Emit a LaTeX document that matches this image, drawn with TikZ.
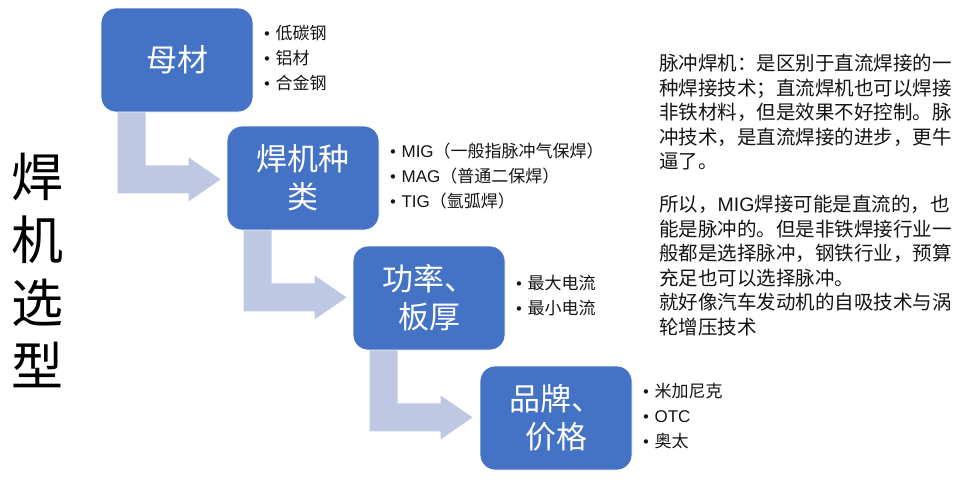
\documentclass[tikz,border=0pt]{standalone}
\usepackage{fontspec}
\setmainfont{Noto Sans CJK SC}
\newfontfamily\bulfont{DejaVu Sans}
\newfontfamily\latfont{Liberation Sans}
\usetikzlibrary{calc,backgrounds}
\definecolor{boxblue}{HTML}{4472C4}
\definecolor{arrowfill}{RGB}{191,200,227}
\definecolor{txt}{RGB}{20,20,20}
\tikzset{
  stepbox/.style={draw=white, line width=0.8pt, fill=boxblue, rounded corners=15pt,
    minimum width=152pt, minimum height=104pt, inner sep=0pt, align=center,
    text=white, font=\fontsize{31}{38}\selectfont},
  bullets/.style={anchor=west, inner sep=0pt, align=left, text=txt,
    font=\fontsize{17}{25}\selectfont},
  bendarrow/.style={fill=arrowfill, draw=none}
}
\newcommand{\bul}{\makebox[13pt][l]{\bulfont\fontsize{15}{15}\selectfont\raisebox{0pt}{•}}}
\newcommand{\lat}[1]{{\latfont #1}}
\newcommand{\bendarr}[1]{%
  \begin{scope}[shift={(#1)}]
    \fill[bendarrow] (17,-2) -- (45,-2) -- (45,53) -- (88,53) -- (88,45) -- (120,67)
      -- (88,89) -- (88,81) -- (17,81) -- cycle;
  \end{scope}}
\begin{document}
\begin{tikzpicture}[x=1pt,y=-1pt]
\useasboundingbox (0,0) rectangle (969,483);
% boxes
\path (177,60) node[stepbox] (b1) {母材}
      (303,178) node[stepbox] (b2) {焊机种\\类}
      (429,298) node[stepbox] (b3) {功率、\\板厚}
      (556,418) node[stepbox] (b4) {品牌、\\价格};
% bent arrows between boxes, behind them
\begin{scope}[on background layer]
\bendarr{b1.south west}
\bendarr{b2.south west}
\bendarr{b3.south west}
\end{scope}
% bullet lists
\node[bullets] (l1) at ($(b1.east)+(9,-2)$) {\bul 低碳钢\\\bul 铝材\\\bul 合金钢};
\node[bullets] (l2) at ($(b2.east)+(9,-2)$) {\bul \lat{MIG}（一般指脉冲气保焊）\\\bul \lat{MAG}（普通二保焊）\\\bul \lat{TIG}（氩弧焊）};
\node[bullets] (l3) at ($(b3.east)+(9,-2)$) {\bul 最大电流\\\bul 最小电流};
\node[bullets] (l4) at ($(b4.east)+(9,-2)$) {\bul 米加尼克\\\bul \lat{OTC}\\\bul 奥太};
% title
\node[align=center, inner sep=0pt, text=black, font=\fontsize{52}{63}\selectfont] (title) at (38,270) {焊\\机\\选\\型};
% note text
\node[anchor=north west, inner sep=0pt, align=left, text=txt, font=\fontsize{19.5}{24.5}\selectfont] (note) at (659,54)
 {脉冲焊机：是区别于直流焊接的一\\种焊接技术；直流焊机也可以焊接\\非铁材料，但是效果不好控制。脉\\冲技术，是直流焊接的进步，更牛\\逼了。\\[18.5pt]所以，\lat{MIG}焊接可能是直流的，也\\能是脉冲的。但是非铁焊接行业一\\般都是选择脉冲，钢铁行业，预算\\充足也可以选择脉冲。\\就好像汽车发动机的自吸技术与涡\\轮增压技术};
\end{tikzpicture}
\end{document}
